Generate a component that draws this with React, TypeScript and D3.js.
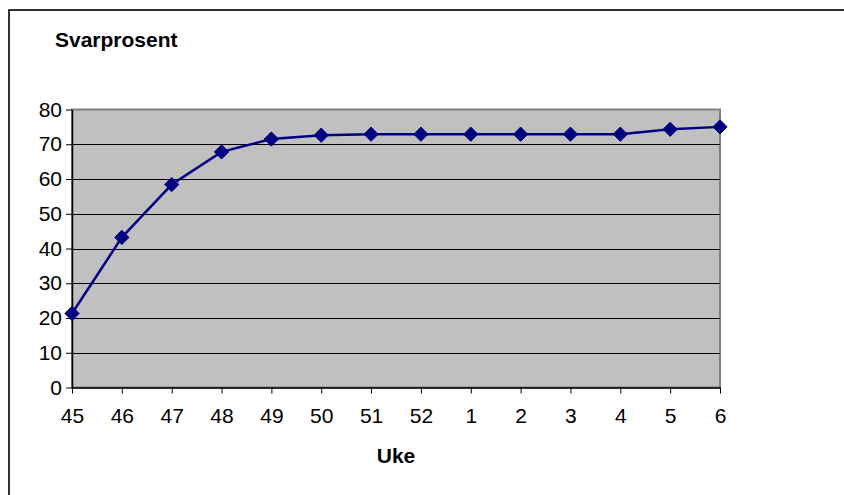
import * as d3 from "d3";
import { useEffect, useRef } from "react";

const weeks = ["45", "46", "47", "48", "49", "50", "51", "52", "1", "2", "3", "4", "5", "6"];
const responseRate = [21.3, 43.2, 58.4, 67.8, 71.5, 72.6, 72.9, 72.9, 72.9, 72.9, 72.9, 72.9, 74.3, 75.0];
const yTicks = [0, 10, 20, 30, 40, 50, 60, 70, 80];

const App = () => {
    const svgRef = useRef<SVGSVGElement | null>(null);

    useEffect(() => {
        document.body.style.margin = "0";
        if (!svgRef.current) return;

        const width = 844;
        const height = 495;
        const plot = { left: 72, right: 720, top: 109.5, bottom: 387.5 };
        const font = "Arial, 'Liberation Sans', sans-serif";

        const svg = d3.select(svgRef.current)
            .attr("width", width)
            .attr("height", height)
            .style("display", "block")
            .style("background", "#fff");

        svg.selectAll("*").remove();

        // chart frame (runs off the right and bottom edge)
        svg.append("rect")
            .attr("x", 9)
            .attr("y", 10)
            .attr("width", 900)
            .attr("height", 600)
            .attr("fill", "none")
            .attr("stroke", "#000")
            .attr("stroke-width", 1.6);

        const x = d3.scalePoint<string>()
            .domain(weeks)
            .range([plot.left, plot.right]);

        const y = d3.scaleLinear()
            .domain([0, 80])
            .range([plot.bottom, plot.top]);

        // plot area
        svg.append("rect")
            .attr("x", plot.left)
            .attr("y", plot.top)
            .attr("width", plot.right - plot.left)
            .attr("height", plot.bottom - plot.top)
            .attr("fill", "#c0c0c0")
            .attr("stroke", "#808080")
            .attr("stroke-width", 2);

        // gridlines
        svg.append("g")
            .selectAll("line")
            .data(yTicks.filter(t => t > 0 && t < 80))
            .join("line")
            .attr("x1", plot.left)
            .attr("x2", plot.right)
            .attr("y1", d => Math.round(y(d)) + 0.5)
            .attr("y2", d => Math.round(y(d)) + 0.5)
            .attr("stroke", "#000")
            .attr("stroke-width", 1);

        // y axis
        const yAxis = svg.append("g")
            .attr("transform", `translate(${plot.left},0)`)
            .call(d3.axisLeft(y).tickValues(yTicks).tickSize(6).tickSizeOuter(0).tickPadding(4));
        yAxis.select(".domain").attr("stroke", "#000").attr("stroke-width", 1.5);
        yAxis.selectAll(".tick line").attr("stroke", "#000");
        yAxis.selectAll(".tick text")
            .attr("font-family", font)
            .attr("font-size", 21)
            .attr("fill", "#000");

        // x axis
        const xAxis = svg.append("g")
            .attr("transform", `translate(0,${plot.bottom})`)
            .call(d3.axisBottom(x).tickSize(6).tickSizeOuter(0).tickPadding(15));
        xAxis.select(".domain").attr("stroke", "#000").attr("stroke-width", 1.5);
        xAxis.selectAll(".tick line").attr("stroke", "#000");
        xAxis.selectAll(".tick text")
            .attr("font-family", font)
            .attr("font-size", 21)
            .attr("fill", "#000");

        // series line
        const line = d3.line<number>()
            .x((_, i) => x(weeks[i])!)
            .y(d => y(d));

        svg.append("path")
            .datum(responseRate)
            .attr("fill", "none")
            .attr("stroke", "#000080")
            .attr("stroke-width", 2.5)
            .attr("d", line);

        // diamond markers
        const diamond = d3.symbol().type(d3.symbolDiamond2).size(130);
        svg.append("g")
            .selectAll("path")
            .data(responseRate)
            .join("path")
            .attr("transform", (d, i) => `translate(${x(weeks[i])},${y(d)})`)
            .attr("d", diamond)
            .attr("fill", "#000080")
            .attr("stroke", "#000080")
            .attr("stroke-width", 1);

        // titles
        svg.append("text")
            .attr("x", 55)
            .attr("y", 47)
            .attr("font-family", font)
            .attr("font-size", 21)
            .attr("font-weight", "bold")
            .text("Svarprosent");

        svg.append("text")
            .attr("x", (plot.left + plot.right) / 2)
            .attr("y", 463)
            .attr("text-anchor", "middle")
            .attr("font-family", font)
            .attr("font-size", 21)
            .attr("font-weight", "bold")
            .text("Uke");
    }, []);

    return <svg ref={svgRef}></svg>;
};

export default App;
